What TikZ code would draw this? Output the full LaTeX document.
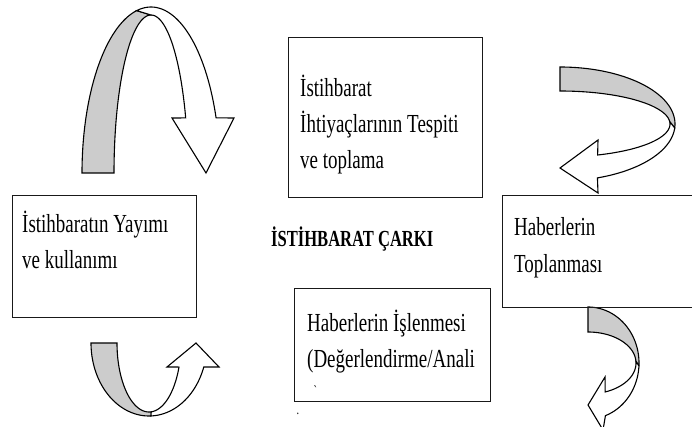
\documentclass[tikz,border=0pt]{standalone}
\usepackage{fontspec}
\newfontfamily\kutufont[FakeStretch=0.73]{Liberation Serif}
\newfontfamily\baslikfont[FakeStretch=0.72]{Liberation Serif}

\tikzset{
  kutu/.style={draw=black!90, line width=1.4pt, rectangle, inner sep=0pt, anchor=north west},
  yazi/.style={font=\kutufont\fontsize{26pt}{36pt}\selectfont, align=left, inner sep=0pt, anchor=base west},
  serit/.style={draw=black, line width=1.1pt},
  gri/.style={serit, fill=gray!40},
  beyaz/.style={serit, fill=white}
}

\begin{document}
\begin{tikzpicture}[x=1pt,y=-1pt]
\useasboundingbox (0,0) rectangle (692,427);

% sol ust ok
\draw[gri] plot[domain=180:102,samples=40] ({151+69*cos(\x)},{173-166*sin(\x)})
  -- plot[domain=90:180,samples=40] ({151+37*cos(\x)},{173-158*sin(\x)}) -- cycle;
\draw[beyaz] plot[domain=102:19.4,samples=40] ({151+69*cos(\x)},{173-166*sin(\x)})
  -- (234,118) -- (206,173) -- (172,118)
  -- plot[domain=20.4:90,samples=40] ({151+37*cos(\x)},{173-158*sin(\x)}) -- cycle;

% sol alt ok
\draw[gri] plot[domain=180:88,samples=40] ({149+58*cos(\x)},{343+73*sin(\x)})
  -- plot[domain=86:180,samples=40] ({149+32*cos(\x)},{343+69*sin(\x)}) -- cycle;
\draw[beyaz] plot[domain=88:19.2,samples=40] ({149+58*cos(\x)},{343+73*sin(\x)})
  -- (219,367) -- (196,343) -- (167,367)
  -- plot[domain=20.4:86,samples=40] ({149+32*cos(\x)},{343+69*sin(\x)}) -- cycle;

% sag ust ok
\draw[gri] plot[domain=90:-4,samples=40] ({560+115*cos(\x)},{124-57*sin(\x)})
  -- plot[domain=4:90,samples=40] ({560+110*cos(\x)},{124-33*sin(\x)}) -- cycle;
\draw[beyaz] plot[domain=-4:-71,samples=40] ({560+115*cos(\x)},{124-57*sin(\x)})
  -- (598,193) -- (560,168) -- (598,140)
  -- plot[domain=-70:4,samples=40] ({560+110*cos(\x)},{124-33*sin(\x)}) -- cycle;

% sag alt ok
\draw[gri] plot[domain=90:-3,samples=40] ({588+51*cos(\x)},{363-56*sin(\x)})
  -- plot[domain=3:90,samples=40] ({588+48*cos(\x)},{363-31*sin(\x)}) -- cycle;
\draw[beyaz] plot[domain=-3:-70,samples=40] ({588+51*cos(\x)},{363-56*sin(\x)})
  -- (603,430) -- (588,405) -- (605,377)
  -- plot[domain=-69:3,samples=40] ({588+48*cos(\x)},{363-31*sin(\x)}) -- cycle;

% kutular
\node[kutu, minimum width=194pt, minimum height=160pt] (ihtiyac) at (288,37) {};
\node[kutu, minimum width=184pt, minimum height=122pt] (yayim) at (12,195) {};
\node[kutu, minimum width=200pt, minimum height=112pt] (toplama) at (502,195) {};
\node[kutu, minimum width=196pt, minimum height=113pt] (isleme) at (294,288) {};

% yazilar (base = son satir)
\node[yazi] (ihtiyacyazi) at (300,169) {İstihbarat\\İhtiyaçlarının Tespiti\\ve toplama};
\node[yazi] (yayimyazi) at (22,269) {İstihbaratın Yayımı\\ve kullanımı};
\node[yazi] (toplamayazi) at (514,272) {Haberlerin\\Toplanması};
\node[yazi] (islemeyazi) at (307,367) {Haberlerin İşlenmesi\\(Değerlendirme/Anali};
\node[font=\baslikfont\bfseries\fontsize{23pt}{26pt}\selectfont, inner sep=0pt, anchor=base west]
  (baslik) at (271,247) {İSTİHBARAT ÇARKI};
\node[font=\kutufont\fontsize{14pt}{14pt}\selectfont, inner sep=0pt] (isaret) at (316,391) {\textasciigrave};
\node[font=\kutufont\fontsize{14pt}{14pt}\selectfont, inner sep=0pt] (nokta) at (298,414) {.};
\end{tikzpicture}
\end{document}
